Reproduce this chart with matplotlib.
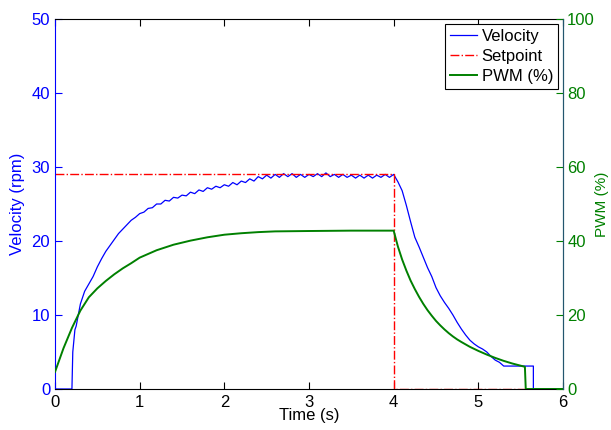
import matplotlib
matplotlib.use('Agg')
import matplotlib.pyplot as plt
import numpy as np

plt.rcParams['font.family'] = ['Liberation Sans', 'DejaVu Sans']

# velocity (rpm), sampled every 0.05 s from 0.25 s to 5.30 s
vel_mid = [8.5, 11.5, 13.2, 14.2, 15.2, 16.5, 17.6, 18.6, 19.4, 20.2,
           21.0, 21.6, 22.2, 22.8, 23.2, 23.7, 23.9, 24.4, 24.5, 25.0,
           25.0, 25.5, 25.4, 25.9, 25.8, 26.2, 26.1, 26.6, 26.4, 26.9,
           26.7, 27.2, 27.0, 27.4, 27.2, 27.6, 27.4, 27.9, 27.6, 28.1,
           27.9, 28.4, 28.1, 28.7, 28.4, 28.9, 28.5, 29.0, 28.6, 29.1,
           28.7, 29.1, 28.6, 29.0, 28.6, 29.0, 28.7, 29.1, 28.7, 29.2,
           28.7, 29.0, 28.6, 29.0, 28.6, 28.9, 28.5, 28.9, 28.5, 28.9,
           28.5, 28.9, 28.6, 29.0, 28.6, 29.0, 28.0, 26.8, 24.8, 22.6,
           20.5, 19.2, 17.8, 16.4, 15.2, 13.7, 12.6, 11.7, 10.9, 10.0,
           9.0, 8.1, 7.3, 6.6, 6.1, 5.7, 5.4, 5.0, 4.4, 3.9,
           3.6, 3.1]
t_mid = list(np.round(0.25 + 0.05 * np.arange(len(vel_mid)), 2))
t_vel = [0.0, 0.2, 0.21, 0.235] + t_mid + [5.65, 5.65, 6.0]
vel = [0.0, 0.0, 5.0, 8.0] + vel_mid + [3.1, 0.0, 0.0]

# setpoint (rpm)
t_sp = [0.0, 4.0, 4.0, 6.0]
sp = [29.0, 29.0, 0.0, 0.0]

# PWM (%)
t_pwm = [0.0, 0.1, 0.2, 0.3, 0.4, 0.5, 0.6, 0.7, 0.8, 0.9, 1.0, 1.2, 1.4,
         1.6, 1.8, 2.0, 2.2, 2.4, 2.6, 3.0, 3.5, 4.0, 4.05, 4.1, 4.15, 4.2,
         4.25, 4.3, 4.35, 4.4, 4.45, 4.5, 4.55, 4.6, 4.65, 4.7, 4.75, 4.8,
         4.9, 5.0, 5.1, 5.2, 5.3, 5.4, 5.5, 5.55, 5.56, 6.0]
pwm = [4.6, 11.0, 16.5, 21.2, 24.8, 27.2, 29.2, 31.0, 32.6, 34.0, 35.5,
       37.5, 39.0, 40.1, 41.0, 41.7, 42.1, 42.4, 42.6, 42.7, 42.8, 42.8,
       38.5, 35.0, 32.0, 29.3, 27.0, 24.9, 23.0, 21.3, 19.8, 18.4, 17.2,
       16.1, 15.1, 14.2, 13.4, 12.7, 11.4, 10.3, 9.3, 8.4, 7.6, 6.9, 6.3,
       6.0, 0.0, 0.0]

blue = (0, 0, 1)
green = (0, 0.5, 0)
edge = '#23566e'

fig = plt.figure(figsize=(6.11, 4.30), dpi=100)
ax1 = fig.add_axes([55 / 611, 41 / 430, 508 / 611, 370 / 430])
ax2 = ax1.twinx()

l1, = ax1.plot(t_vel, vel, color=blue, lw=0.9, label='Velocity')
l2, = ax1.plot(t_sp, sp, color='red', lw=1.0, ls='-.', label='Setpoint')
l3, = ax2.plot(t_pwm, pwm, color=green, lw=1.4, label='PWM (%)')

ax1.set_xlim(0, 6)
ax1.set_ylim(0, 50)
ax2.set_ylim(0, 100)
ax1.set_xticks(range(0, 7))
ax1.set_yticks(range(0, 51, 10))
ax2.set_yticks(range(0, 101, 20))

ax1.tick_params(axis='x', direction='in', top=True, length=5, labelsize=12, pad=4, colors='black')
ax1.tick_params(axis='y', direction='in', length=5, labelsize=12, colors=blue)
ax2.tick_params(axis='y', direction='in', length=5, labelsize=12, pad=3, colors=green)

for s in ['top', 'bottom']:
    ax1.spines[s].set_color('black')
ax1.spines['left'].set_color(blue)
ax1.spines['right'].set_color(edge)
for s in ['top', 'bottom', 'left']:
    ax2.spines[s].set_visible(False)
ax2.spines['right'].set_color(edge)

ax1.set_xlabel('Time (s)', fontsize=12, labelpad=-1)
ax1.set_ylabel('Velocity (rpm)', fontsize=12, color=blue, labelpad=5)
ax2.set_ylabel('PWM (%)', fontsize=11, color=green, labelpad=0)

leg = ax1.legend(handles=[l1, l2, l3], loc='upper right', fontsize=12,
                 frameon=True, fancybox=False, framealpha=1, edgecolor='black',
                 handlelength=1.6, handletextpad=0.3, borderpad=0.3,
                 labelspacing=0.3, borderaxespad=0.3)
leg.get_frame().set_linewidth(0.8)

fig.savefig('out.png', dpi=100)
